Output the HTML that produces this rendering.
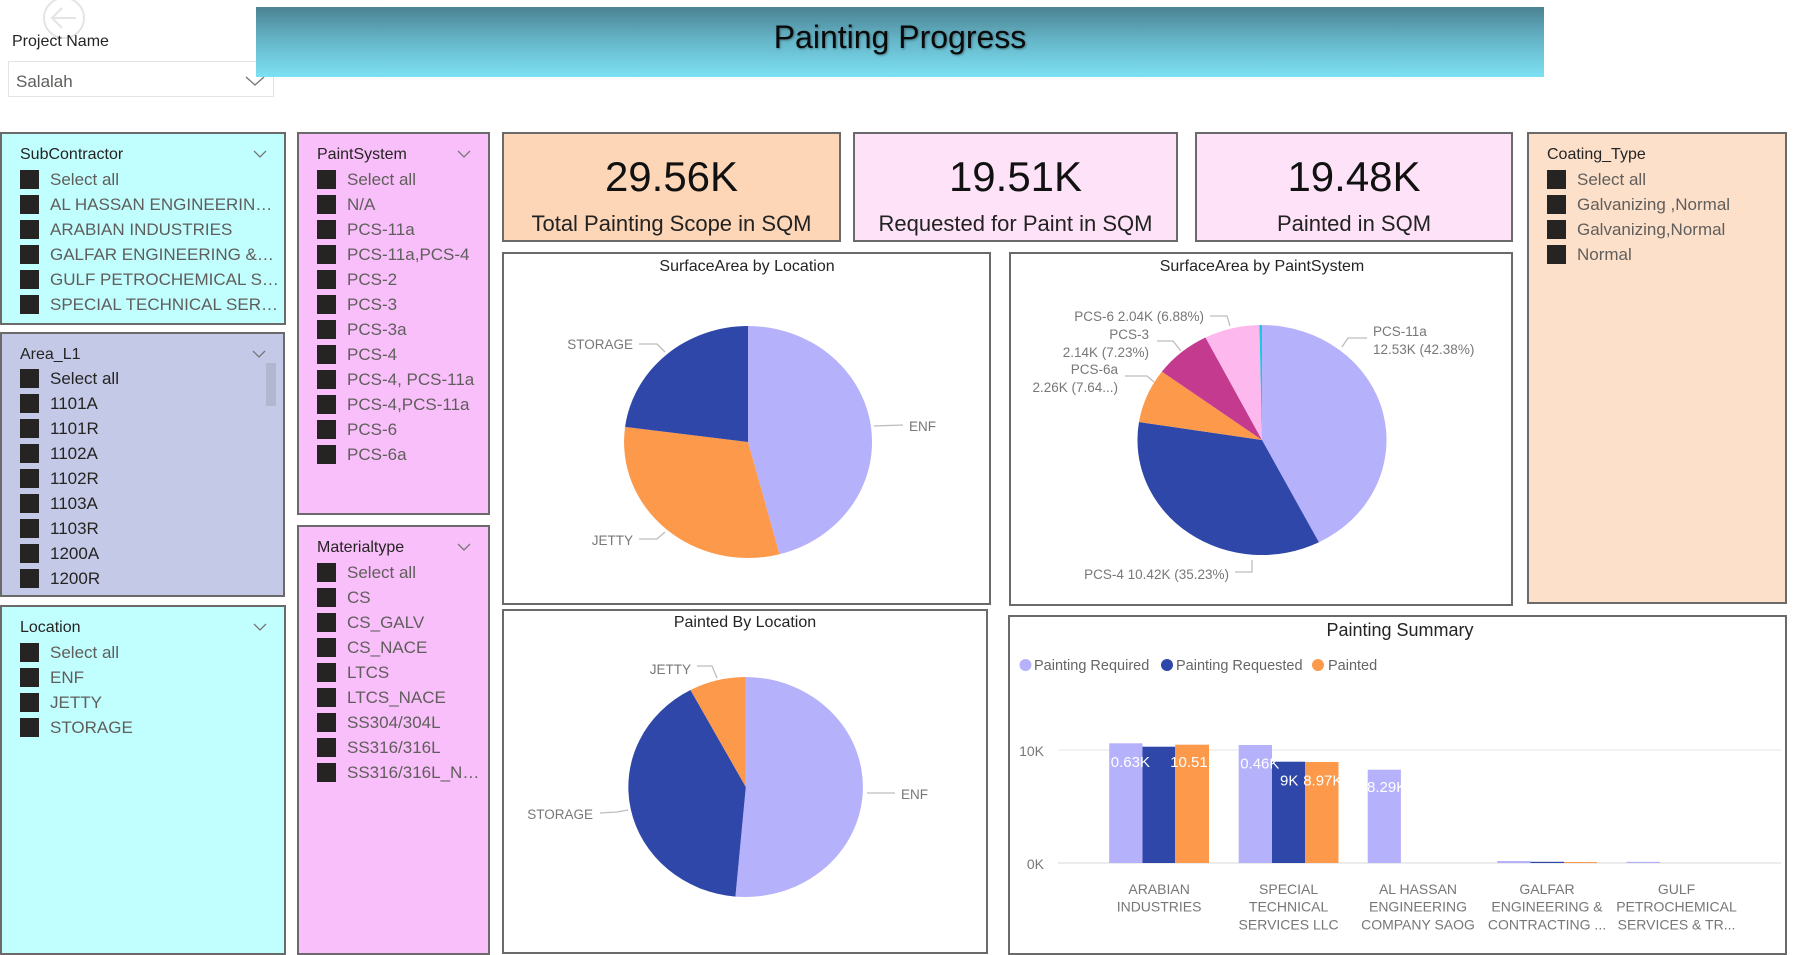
<!DOCTYPE html>
<html>
<head>
<meta charset="utf-8">
<style>
  html,body{margin:0;padding:0;}
  body{width:1800px;height:941px;position:relative;overflow:hidden;background:#ffffff;font-family:"Liberation Sans",sans-serif;}
  .abs{position:absolute;}
  .panel{position:absolute;box-sizing:border-box;border:2px solid #6a6a6a;overflow:hidden;}
  .st{position:absolute;left:18px;top:11px;height:20px;line-height:20px;font-size:16px;color:#252423;white-space:nowrap;}
  .chev{position:absolute;right:17px;top:16px;width:14px;height:8px;}
  .r{position:absolute;left:18px;height:25px;line-height:25px;font-size:17px;color:#605e5c;padding-left:30px;white-space:nowrap;margin-top:1.5px;}
  .r i{position:absolute;left:0;top:3px;width:19px;height:19px;background:#252423;}
  .dark .r{color:#252423;}
  .card{position:absolute;box-sizing:border-box;border:2px solid #6a6a6a;}
  .num{position:absolute;left:0;right:0;top:18px;height:50px;line-height:50px;text-align:center;font-size:42px;color:#111;}
  .lbl{position:absolute;left:0;right:0;top:75px;height:30px;line-height:30px;text-align:center;font-size:22px;color:#222;white-space:nowrap;}
</style>
</head>
<body>

<!-- back arrow -->
<svg class="abs" style="left:38px;top:0px" width="54" height="44" viewBox="0 0 54 44">
  <circle cx="26" cy="18" r="20" fill="none" stroke="#e4e4e4" stroke-width="2"/>
  <line x1="14" y1="18" x2="38" y2="18" stroke="#e4e4e4" stroke-width="2"/>
  <polyline points="24,8 14,18 24,28" fill="none" stroke="#e4e4e4" stroke-width="2"/>
</svg>

<!-- project name -->
<div class="abs" style="left:12px;top:32px;height:20px;line-height:20px;font-size:16px;color:#252423;">Project Name</div>
<div class="abs" style="left:8px;top:61px;width:266px;height:36px;box-sizing:border-box;border:1px solid #e3e3e3;background:#fff;"></div>
<div class="abs" style="left:16px;top:71px;height:22px;line-height:22px;font-size:17px;color:#605e5c;">Salalah</div>
<svg class="abs" style="left:245px;top:76px" width="20" height="11"><polyline points="1,1 10,9 19,1" fill="none" stroke="#777" stroke-width="1.4"/></svg>

<!-- title bar -->
<div class="abs" style="left:256px;top:7px;width:1288px;height:70px;background:linear-gradient(to bottom,#4a8292 0%,#64b3c6 45%,#7de1f3 100%);"></div>
<div class="abs" style="left:256px;top:0px;width:1288px;height:75px;line-height:75px;text-align:center;font-size:32px;color:#0a0a0a;text-shadow:1px 1px 2px rgba(0,0,0,0.35);">Painting Progress</div>

<!-- SubContractor -->
<div class="panel" style="left:0;top:132px;width:286px;height:193px;background:#c1fefe;">
  <div class="st">SubContractor</div>
  <svg class="chev"><polyline points="1,1 7,7 13,1" fill="none" stroke="#777" stroke-width="1.3"/></svg>
  <div class="r" style="top:31px"><i></i>Select all</div>
  <div class="r" style="top:56px"><i></i>AL HASSAN ENGINEERIN…</div>
  <div class="r" style="top:81px"><i></i>ARABIAN INDUSTRIES</div>
  <div class="r" style="top:106px"><i></i>GALFAR ENGINEERING &amp;…</div>
  <div class="r" style="top:131px"><i></i>GULF PETROCHEMICAL S…</div>
  <div class="r" style="top:156px"><i></i>SPECIAL TECHNICAL SER…</div>
</div>

<!-- Area_L1 -->
<div class="panel dark" style="left:0;top:332px;width:285px;height:265px;background:#c3c9e7;">
  <div class="st">Area_L1</div>
  <svg class="chev"><polyline points="1,1 7,7 13,1" fill="none" stroke="#777" stroke-width="1.3"/></svg>
  <div class="abs" style="left:264px;top:29px;width:10px;height:43px;background:#b2b7d0;"></div>
  <div class="r" style="top:30px"><i></i>Select all</div>
  <div class="r" style="top:55px"><i></i>1101A</div>
  <div class="r" style="top:80px"><i></i>1101R</div>
  <div class="r" style="top:105px"><i></i>1102A</div>
  <div class="r" style="top:130px"><i></i>1102R</div>
  <div class="r" style="top:155px"><i></i>1103A</div>
  <div class="r" style="top:180px"><i></i>1103R</div>
  <div class="r" style="top:205px"><i></i>1200A</div>
  <div class="r" style="top:230px"><i></i>1200R</div>
</div>

<!-- Location -->
<div class="panel" style="left:0;top:605px;width:286px;height:350px;background:#c1fefe;">
  <div class="st">Location</div>
  <svg class="chev"><polyline points="1,1 7,7 13,1" fill="none" stroke="#777" stroke-width="1.3"/></svg>
  <div class="r" style="top:31px"><i></i>Select all</div>
  <div class="r" style="top:56px"><i></i>ENF</div>
  <div class="r" style="top:81px"><i></i>JETTY</div>
  <div class="r" style="top:106px"><i></i>STORAGE</div>
</div>

<!-- PaintSystem -->
<div class="panel" style="left:297px;top:132px;width:193px;height:383px;background:#f9bffa;">
  <div class="st">PaintSystem</div>
  <svg class="chev"><polyline points="1,1 7,7 13,1" fill="none" stroke="#777" stroke-width="1.3"/></svg>
  <div class="r" style="top:31px"><i></i>Select all</div>
  <div class="r" style="top:56px"><i></i>N/A</div>
  <div class="r" style="top:81px"><i></i>PCS-11a</div>
  <div class="r" style="top:106px"><i></i>PCS-11a,PCS-4</div>
  <div class="r" style="top:131px"><i></i>PCS-2</div>
  <div class="r" style="top:156px"><i></i>PCS-3</div>
  <div class="r" style="top:181px"><i></i>PCS-3a</div>
  <div class="r" style="top:206px"><i></i>PCS-4</div>
  <div class="r" style="top:231px"><i></i>PCS-4, PCS-11a</div>
  <div class="r" style="top:256px"><i></i>PCS-4,PCS-11a</div>
  <div class="r" style="top:281px"><i></i>PCS-6</div>
  <div class="r" style="top:306px"><i></i>PCS-6a</div>
</div>

<!-- Materialtype -->
<div class="panel" style="left:297px;top:525px;width:193px;height:430px;background:#f9bffa;">
  <div class="st">Materialtype</div>
  <svg class="chev"><polyline points="1,1 7,7 13,1" fill="none" stroke="#777" stroke-width="1.3"/></svg>
  <div class="r" style="top:31px"><i></i>Select all</div>
  <div class="r" style="top:56px"><i></i>CS</div>
  <div class="r" style="top:81px"><i></i>CS_GALV</div>
  <div class="r" style="top:106px"><i></i>CS_NACE</div>
  <div class="r" style="top:131px"><i></i>LTCS</div>
  <div class="r" style="top:156px"><i></i>LTCS_NACE</div>
  <div class="r" style="top:181px"><i></i>SS304/304L</div>
  <div class="r" style="top:206px"><i></i>SS316/316L</div>
  <div class="r" style="top:231px"><i></i>SS316/316L_N…</div>
</div>

<!-- KPI cards -->
<div class="card" style="left:502px;top:132px;width:339px;height:110px;background:#fdd6b7;">
  <div class="num">29.56K</div>
  <div class="lbl">Total Painting Scope in SQM</div>
</div>
<div class="card" style="left:853px;top:132px;width:325px;height:110px;background:#fee3f8;">
  <div class="num">19.51K</div>
  <div class="lbl">Requested for Paint in SQM</div>
</div>
<div class="card" style="left:1195px;top:132px;width:318px;height:110px;background:#fee3f8;">
  <div class="num">19.48K</div>
  <div class="lbl">Painted in SQM</div>
</div>

<!-- Coating_Type -->
<div class="panel" style="left:1527px;top:132px;width:260px;height:472px;background:#fde0ca;">
  <div class="st">Coating_Type</div>
  <div class="r" style="top:31px"><i></i>Select all</div>
  <div class="r" style="top:56px"><i></i>Galvanizing ,Normal</div>
  <div class="r" style="top:81px"><i></i>Galvanizing,Normal</div>
  <div class="r" style="top:106px"><i></i>Normal</div>
</div>

<!-- chart panels -->
<div class="panel" style="left:502px;top:252px;width:489px;height:353px;background:#fff;"></div>
<div class="panel" style="left:1009px;top:252px;width:504px;height:354px;background:#fff;"></div>
<div class="panel" style="left:502px;top:609px;width:486px;height:345px;background:#fff;"></div>
<div class="panel" style="left:1008px;top:615px;width:779px;height:340px;background:#fff;"></div>

<svg class="abs" style="left:0;top:0" width="1800" height="941" viewBox="0 0 1800 941" font-family="Liberation Sans, sans-serif">
  <!-- Pie 1: SurfaceArea by Location -->
  <text x="747" y="271" font-size="16" fill="#252423" text-anchor="middle">SurfaceArea by Location</text>
  <path d="M748,442 L748,326 A124,116 0 0 1 779.5,554.2 Z" fill="#b5b1fb"/>
  <path d="M748,442 L779.5,554.2 A124,116 0 0 1 625.1,426.9 Z" fill="#fd994b"/>
  <path d="M748,442 L625.1,426.9 A124,116 0 0 1 748,326 Z" fill="#2e47a9"/>
  <g fill="none" stroke="#bdbdbd" stroke-width="1.3">
    <polyline points="639,344 657,344 665,352"/>
    <polyline points="874,426 903,425"/>
    <polyline points="639,539 657,539 665,532"/>
  </g>
  <g font-size="13.5" fill="#777">
    <text x="633" y="349" text-anchor="end">STORAGE</text>
    <text x="909" y="431">ENF</text>
    <text x="633" y="545" text-anchor="end">JETTY</text>
  </g>

  <!-- Pie 2: SurfaceArea by PaintSystem -->
  <text x="1262" y="271" font-size="16" fill="#252423" text-anchor="middle">SurfaceArea by PaintSystem</text>
  <path d="M1262,440 L1262,325 A124.5,115 0 0 1 1318.9,542.3 Z" fill="#b5b1fb"/>
  <path d="M1262,440 L1318.9,542.3 A124.5,115 0 0 1 1139,422 Z" fill="#2e47a9"/>
  <path d="M1262,440 L1139,422 A124.5,115 0 0 1 1161.9,371.6 Z" fill="#fd994b"/>
  <path d="M1262,440 L1161.9,371.6 A124.5,115 0 0 1 1205.5,337.5 Z" fill="#c43a8f"/>
  <path d="M1262,440 L1205.5,337.5 A124.5,115 0 0 1 1259.4,325 Z" fill="#fdb9ee"/>
  <path d="M1262,440 L1259.4,325 A124.5,115 0 0 1 1262,325 Z" fill="#1ec6e4"/>
  <g fill="none" stroke="#bdbdbd" stroke-width="1.3">
    <polyline points="1210,316 1227,316 1230,326"/>
    <polyline points="1157,341 1173,341 1181,351"/>
    <polyline points="1125,376 1147,376 1154,382"/>
    <polyline points="1342,347 1348,338 1367,338"/>
    <polyline points="1235,572 1252,572 1252,560"/>
  </g>
  <g font-size="13.5" fill="#777">
    <text x="1204" y="321" text-anchor="end">PCS-6 2.04K (6.88%)</text>
    <text x="1149" y="339" text-anchor="end">PCS-3</text>
    <text x="1149" y="357" text-anchor="end">2.14K (7.23%)</text>
    <text x="1118" y="374" text-anchor="end">PCS-6a</text>
    <text x="1118" y="392" text-anchor="end">2.26K (7.64...)</text>
    <text x="1373" y="336">PCS-11a</text>
    <text x="1373" y="354">12.53K (42.38%)</text>
    <text x="1229" y="579" text-anchor="end">PCS-4 10.42K (35.23%)</text>
  </g>

  <!-- Pie 3: Painted By Location -->
  <text x="745" y="627" font-size="16" fill="#252423" text-anchor="middle">Painted By Location</text>
  <path d="M745.8,787 L745.8,677 A117.5,110 0 1 1 735.4,896.6 Z" fill="#b5b1fb"/>
  <path d="M745.8,787 L735.4,896.6 A117.5,110 0 0 1 690.5,690 Z" fill="#2e47a9"/>
  <path d="M745.8,787 L690.5,690 A117.5,110 0 0 1 745.8,677 Z" fill="#fd994b"/>
  <g fill="none" stroke="#bdbdbd" stroke-width="1.3">
    <polyline points="697,666 712,666 717,678"/>
    <polyline points="600,813 617,812 628,810"/>
    <polyline points="867,793 895,793"/>
  </g>
  <g font-size="13.5" fill="#777">
    <text x="691" y="674" text-anchor="end">JETTY</text>
    <text x="593" y="819" text-anchor="end">STORAGE</text>
    <text x="901" y="799">ENF</text>
  </g>

  <!-- Bar chart: Painting Summary -->
  <text x="1400" y="636" font-size="18" fill="#252423" text-anchor="middle">Painting Summary</text>
  <circle cx="1025.5" cy="665" r="6" fill="#b5b1fb"/>
  <text x="1034" y="670" font-size="14.5" fill="#666">Painting Required</text>
  <circle cx="1167" cy="665" r="6" fill="#2e47a9"/>
  <text x="1176" y="670" font-size="14.5" fill="#666">Painting Requested</text>
  <circle cx="1318" cy="665" r="6" fill="#fd994b"/>
  <text x="1328" y="670" font-size="14.5" fill="#666">Painted</text>

  <line x1="1058" y1="750" x2="1781" y2="750" stroke="#ebebeb" stroke-width="1.2"/>
  <line x1="1058" y1="863" x2="1781" y2="863" stroke="#e6e6e6" stroke-width="1.5"/>
  <text x="1044" y="756" font-size="14" fill="#777" text-anchor="end">10K</text>
  <text x="1044" y="869" font-size="14" fill="#777" text-anchor="end">0K</text>

  <rect x="1109.2" y="743.3" width="33.3" height="119.7" fill="#b5b1fb"/>
  <rect x="1142.5" y="746.7" width="32.7" height="116.3" fill="#2e47a9"/>
  <rect x="1175.2" y="744.7" width="33.8" height="118.3" fill="#fd994b"/>

  <rect x="1238.7" y="745" width="33.3" height="118" fill="#b5b1fb"/>
  <rect x="1272" y="761.7" width="33.2" height="101.3" fill="#2e47a9"/>
  <rect x="1305.2" y="762" width="33.3" height="101" fill="#fd994b"/>

  <rect x="1367.7" y="769.7" width="33.2" height="93.3" fill="#b5b1fb"/>

  <rect x="1497.2" y="861" width="33.2" height="2" fill="#b5b1fb"/>
  <rect x="1530.4" y="861.8" width="33.8" height="1.2" fill="#2e47a9"/>
  <rect x="1564.2" y="862" width="32.7" height="1" fill="#fd994b"/>
  <rect x="1626.6" y="861.8" width="33.3" height="1.2" fill="#b5b1fb"/>

  <g font-size="15" fill="#ffffff">
    <text x="1110.8" y="767">0.63K</text>
    <text x="1170.2" y="767">10.51</text>
    <text x="1240.2" y="768.5">0.46K</text>
    <text x="1280" y="785.5">9K</text>
    <text x="1303.2" y="785.5">8.97K</text>
    <text x="1367" y="792">8.29K</text>
  </g>

  <g font-size="14" fill="#777" text-anchor="middle">
    <text x="1159.1" y="894">ARABIAN</text>
    <text x="1159.1" y="911.5">INDUSTRIES</text>
    <text x="1288.6" y="894">SPECIAL</text>
    <text x="1288.6" y="911.5">TECHNICAL</text>
    <text x="1288.6" y="929.5">SERVICES LLC</text>
    <text x="1418" y="894">AL HASSAN</text>
    <text x="1418" y="911.5">ENGINEERING</text>
    <text x="1418" y="929.5">COMPANY SAOG</text>
    <text x="1547" y="894">GALFAR</text>
    <text x="1547" y="911.5">ENGINEERING &amp;</text>
    <text x="1547" y="929.5">CONTRACTING ...</text>
    <text x="1676.5" y="894">GULF</text>
    <text x="1676.5" y="911.5">PETROCHEMICAL</text>
    <text x="1676.5" y="929.5">SERVICES &amp; TR...</text>
  </g>
</svg>

</body>
</html>
